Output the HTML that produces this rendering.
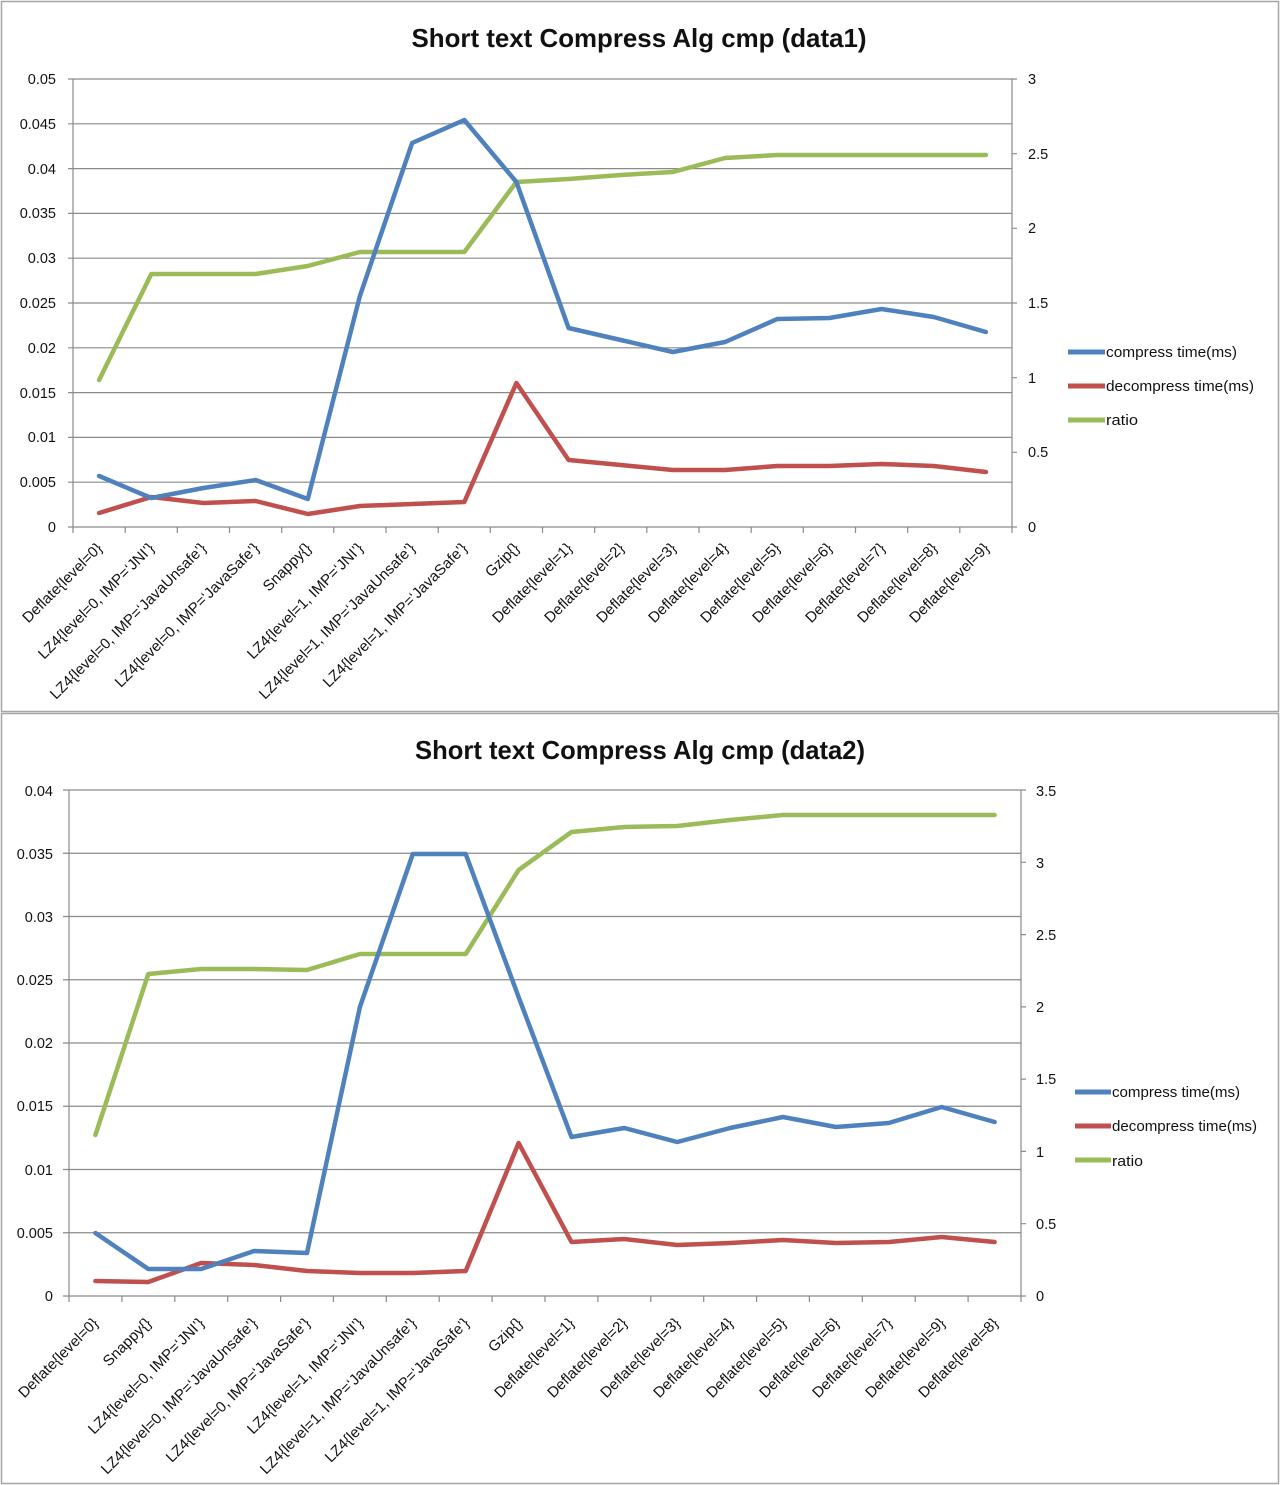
<!DOCTYPE html>
<html><head><meta charset="utf-8"><style>
html,body{margin:0;padding:0;background:#fff;}
svg{display:block;}
text{font-family:"Liberation Sans",Arial,sans-serif;fill:#111;}
.t{font-size:14.5px;}
.c{font-size:15px;}
.g{stroke:#8a8a8a;stroke-width:1.2;fill:none;}
.s{fill:none;stroke-width:4.5;stroke-linejoin:round;stroke-linecap:round;}
</style></head><body>
<svg width="1280" height="1485" viewBox="0 0 1280 1485" xmlns="http://www.w3.org/2000/svg">
<rect x="0" y="0" width="1280" height="1485" fill="#fff"/>
<!-- chart borders -->
<rect x="1.5" y="1.5" width="1277" height="710" fill="none" stroke="#a6a6a6" stroke-width="1.5"/>
<rect x="1.5" y="713.5" width="1277" height="770" fill="none" stroke="#a6a6a6" stroke-width="1.5"/>

<!-- ============ CHART 1 ============ -->
<text x="639" y="47" text-anchor="middle" font-size="26" font-weight="bold" textLength="455" lengthAdjust="spacingAndGlyphs">Short text Compress Alg cmp (data1)</text>
<g class="g">
<path d="M68 79H1012M68 123.8H1012M68 168.6H1012M68 213.4H1012M68 258.2H1012M68 303H1012M68 347.8H1012M68 392.6H1012M68 437.4H1012M68 482.2H1012M68 527H1012"/>
<path d="M73 79V533M1012 79V527"/>
<path d="M125.2 527v6M177.3 527v6M229.5 527v6M281.7 527v6M333.8 527v6M386 527v6M438.2 527v6M490.3 527v6M542.5 527v6M594.7 527v6M646.8 527v6M699 527v6M751.2 527v6M803.3 527v6M855.5 527v6M907.7 527v6M959.8 527v6M1012 527v6"/>
<path d="M1012 527h5M1012 452.3h5M1012 377.7h5M1012 303h5M1012 228.3h5M1012 153.7h5M1012 79h5"/>
</g>
<g class="t" text-anchor="end">
<text x="56" y="84">0.05</text>
<text x="56" y="129">0.045</text>
<text x="56" y="174">0.04</text>
<text x="56" y="218">0.035</text>
<text x="56" y="263">0.03</text>
<text x="56" y="308">0.025</text>
<text x="56" y="353">0.02</text>
<text x="56" y="398">0.015</text>
<text x="56" y="442">0.01</text>
<text x="56" y="487">0.005</text>
<text x="56" y="532">0</text>
</g>
<g class="t">
<text x="1028" y="532">0</text>
<text x="1028" y="457">0.5</text>
<text x="1028" y="383">1</text>
<text x="1028" y="308">1.5</text>
<text x="1028" y="233">2</text>
<text x="1028" y="159">2.5</text>
<text x="1028" y="84">3</text>
</g>
<g class="c" text-anchor="end">
<text x="103" y="549" transform="rotate(-45 103 549)">Deflate{level=0}</text>
<text x="155" y="549" transform="rotate(-45 155 549)">LZ4{level=0, IMP=‘JNI’}</text>
<text x="207" y="549" transform="rotate(-45 207 549)">LZ4{level=0, IMP=‘JavaUnsafe’}</text>
<text x="260" y="549" transform="rotate(-45 260 549)">LZ4{level=0, IMP=‘JavaSafe’}</text>
<text x="312" y="549" transform="rotate(-45 312 549)">Snappy{}</text>
<text x="364" y="549" transform="rotate(-45 364 549)">LZ4{level=1, IMP=‘JNI’}</text>
<text x="416" y="549" transform="rotate(-45 416 549)">LZ4{level=1, IMP=‘JavaUnsafe’}</text>
<text x="468" y="549" transform="rotate(-45 468 549)">LZ4{level=1, IMP=‘JavaSafe’}</text>
<text x="520" y="549" transform="rotate(-45 520 549)">Gzip{}</text>
<text x="573" y="549" transform="rotate(-45 573 549)">Deflate{level=1}</text>
<text x="625" y="549" transform="rotate(-45 625 549)">Deflate{level=2}</text>
<text x="677" y="549" transform="rotate(-45 677 549)">Deflate{level=3}</text>
<text x="729" y="549" transform="rotate(-45 729 549)">Deflate{level=4}</text>
<text x="781" y="549" transform="rotate(-45 781 549)">Deflate{level=5}</text>
<text x="833" y="549" transform="rotate(-45 833 549)">Deflate{level=6}</text>
<text x="886" y="549" transform="rotate(-45 886 549)">Deflate{level=7}</text>
<text x="938" y="549" transform="rotate(-45 938 549)">Deflate{level=8}</text>
<text x="990" y="549" transform="rotate(-45 990 549)">Deflate{level=9}</text>
</g>
<!-- series chart 1 -->
<polyline class="s" stroke="#9bbb59" points="99.1,380 151.3,274 203.4,274 255.6,274 307.8,266 359.9,252 412.1,252 464.3,252 516.4,182 568.6,179 620.8,175 672.9,172 725.1,158 777.3,155 829.4,155 881.6,155 933.8,155 985.9,155"/>
<polyline class="s" stroke="#c0504d" points="99.1,513 151.3,497 203.4,503 255.6,501 307.8,514 359.9,506 412.1,504 464.3,502 516.4,383 568.6,460 620.8,465 672.9,470 725.1,470 777.3,466 829.4,466 881.6,464 933.8,466 985.9,472"/>
<polyline class="s" stroke="#4f81bd" points="99.1,476 151.3,498 203.4,488 255.6,480 307.8,499 359.9,296 412.1,143 464.3,120 516.4,182 568.6,328 620.8,340 672.9,352 725.1,342 777.3,319 829.4,318 881.6,309 933.8,317 985.9,332"/>
<!-- legend chart 1 -->
<g stroke-width="5">
<line x1="1068" y1="352" x2="1105" y2="352" stroke="#4f81bd"/>
<line x1="1068" y1="386" x2="1105" y2="386" stroke="#c0504d"/>
<line x1="1068" y1="420" x2="1105" y2="420" stroke="#9bbb59"/>
</g>
<g font-size="15">
<text x="1106" y="357" textLength="131" lengthAdjust="spacingAndGlyphs">compress time(ms)</text>
<text x="1106" y="391" textLength="148" lengthAdjust="spacingAndGlyphs">decompress time(ms)</text>
<text x="1106" y="425" textLength="32" lengthAdjust="spacingAndGlyphs">ratio</text>
</g>

<!-- ============ CHART 2 ============ -->
<text x="640" y="759" text-anchor="middle" font-size="26" font-weight="bold" textLength="450" lengthAdjust="spacingAndGlyphs">Short text Compress Alg cmp (data2)</text>
<g class="g">
<path d="M63 790H1021M63 853.25H1021M63 916.5H1021M63 979.75H1021M63 1043H1021M63 1106.25H1021M63 1169.5H1021M63 1232.75H1021M63 1296H1021"/>
<path d="M69 790V1302M1021 790V1296"/>
<path d="M121.9 1296v6M174.8 1296v6M227.7 1296v6M280.6 1296v6M333.4 1296v6M386.3 1296v6M439.2 1296v6M492.1 1296v6M545 1296v6M597.9 1296v6M650.8 1296v6M703.7 1296v6M756.6 1296v6M809.4 1296v6M862.3 1296v6M915.2 1296v6M968.1 1296v6M1021 1296v6"/>
<path d="M1021 1296h5M1021 1223.7h5M1021 1151.4h5M1021 1079.1h5M1021 1006.9h5M1021 934.6h5M1021 862.3h5M1021 790h5"/>
</g>
<g class="t" text-anchor="end">
<text x="53" y="796">0.04</text>
<text x="53" y="859">0.035</text>
<text x="53" y="922">0.03</text>
<text x="53" y="985">0.025</text>
<text x="53" y="1048">0.02</text>
<text x="53" y="1111">0.015</text>
<text x="53" y="1175">0.01</text>
<text x="53" y="1238">0.005</text>
<text x="53" y="1301">0</text>
</g>
<g class="t">
<text x="1036" y="1301">0</text>
<text x="1036" y="1229">0.5</text>
<text x="1036" y="1157">1</text>
<text x="1036" y="1084">1.5</text>
<text x="1036" y="1012">2</text>
<text x="1036" y="940">2.5</text>
<text x="1036" y="868">3</text>
<text x="1036" y="796">3.5</text>
</g>
<g class="c" text-anchor="end">
<text x="99" y="1324" transform="rotate(-45 99 1324)">Deflate{level=0}</text>
<text x="152" y="1324" transform="rotate(-45 152 1324)">Snappy{}</text>
<text x="205" y="1324" transform="rotate(-45 205 1324)">LZ4{level=0, IMP=‘JNI’}</text>
<text x="258" y="1324" transform="rotate(-45 258 1324)">LZ4{level=0, IMP=‘JavaUnsafe’}</text>
<text x="311" y="1324" transform="rotate(-45 311 1324)">LZ4{level=0, IMP=‘JavaSafe’}</text>
<text x="364" y="1324" transform="rotate(-45 364 1324)">LZ4{level=1, IMP=‘JNI’}</text>
<text x="417" y="1324" transform="rotate(-45 417 1324)">LZ4{level=1, IMP=‘JavaUnsafe’}</text>
<text x="470" y="1324" transform="rotate(-45 470 1324)">LZ4{level=1, IMP=‘JavaSafe’}</text>
<text x="523" y="1324" transform="rotate(-45 523 1324)">Gzip{}</text>
<text x="575" y="1324" transform="rotate(-45 575 1324)">Deflate{level=1}</text>
<text x="628" y="1324" transform="rotate(-45 628 1324)">Deflate{level=2}</text>
<text x="681" y="1324" transform="rotate(-45 681 1324)">Deflate{level=3}</text>
<text x="734" y="1324" transform="rotate(-45 734 1324)">Deflate{level=4}</text>
<text x="787" y="1324" transform="rotate(-45 787 1324)">Deflate{level=5}</text>
<text x="840" y="1324" transform="rotate(-45 840 1324)">Deflate{level=6}</text>
<text x="893" y="1324" transform="rotate(-45 893 1324)">Deflate{level=7}</text>
<text x="946" y="1324" transform="rotate(-45 946 1324)">Deflate{level=9}</text>
<text x="999" y="1324" transform="rotate(-45 999 1324)">Deflate{level=8}</text>
</g>
<!-- series chart 2 -->
<polyline class="s" stroke="#9bbb59" points="95.4,1135 148.3,974 201.2,969 254.1,969 307,970 359.9,954 412.8,954 465.7,954 518.6,870 571.5,832 624.3,827 677.2,826 730.1,820 783,815 835.9,815 888.8,815 941.7,815 994.6,815"/>
<polyline class="s" stroke="#c0504d" points="95.4,1281 148.3,1282 201.2,1263 254.1,1265 307,1271 359.9,1273 412.8,1273 465.7,1271 518.6,1143 571.5,1242 624.3,1239 677.2,1245 730.1,1243 783,1240 835.9,1243 888.8,1242 941.7,1237 994.6,1242"/>
<polyline class="s" stroke="#4f81bd" points="95.4,1233 148.3,1269 201.2,1269 254.1,1251 307,1253 359.9,1007 412.8,854 465.7,854 518.6,997 571.5,1137 624.3,1128 677.2,1142 730.1,1128 783,1117 835.9,1127 888.8,1123 941.7,1107 994.6,1122"/>
<!-- legend chart 2 -->
<g stroke-width="5">
<line x1="1075" y1="1092" x2="1111" y2="1092" stroke="#4f81bd"/>
<line x1="1075" y1="1126" x2="1111" y2="1126" stroke="#c0504d"/>
<line x1="1075" y1="1160" x2="1111" y2="1160" stroke="#9bbb59"/>
</g>
<g font-size="15">
<text x="1112" y="1097" textLength="128" lengthAdjust="spacingAndGlyphs">compress time(ms)</text>
<text x="1112" y="1131" textLength="145" lengthAdjust="spacingAndGlyphs">decompress time(ms)</text>
<text x="1112" y="1166" textLength="31" lengthAdjust="spacingAndGlyphs">ratio</text>
</g>
</svg>
</body></html>
